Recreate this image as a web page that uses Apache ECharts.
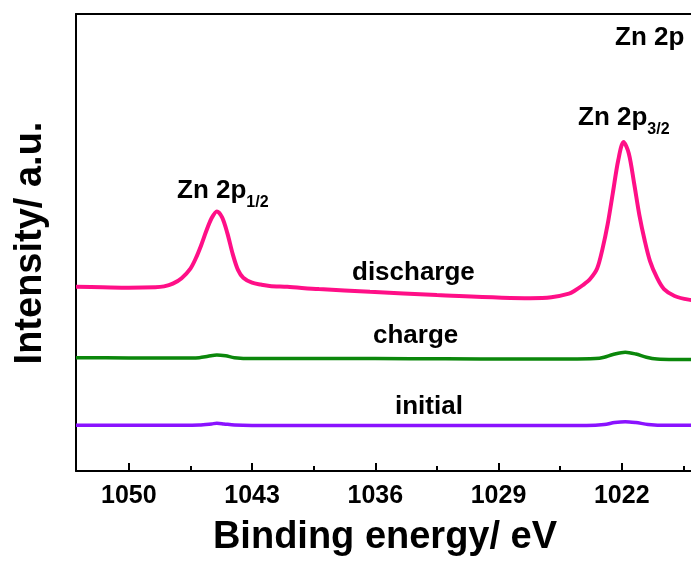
<!DOCTYPE html>
<html>
<head>
<meta charset="utf-8">
<script src="https://cdn.jsdelivr.net/npm/echarts@6/dist/echarts.min.js"></script>
<style>
html, body { margin: 0; padding: 0; background: #fff; }
#chart { width: 691px; height: 568px; }
</style>
</head>
<body>
<div id="chart"></div>
<script>
// binding energy (eV) and intensity (a.u., offset stacked)
var dischargeEnergy = [1053, 1051.5, 1050, 1048.5, 1048, 1047.5, 1047, 1046.5, 1046.2, 1045.9, 1045.6, 1045.3, 1045, 1044.7, 1044.4, 1044.1, 1043.8, 1043.5, 1043, 1042.5, 1042, 1041, 1039.2, 1036.3, 1032.5, 1027.2, 1026, 1025, 1024.7, 1024.2, 1023.8, 1023.4, 1023.1, 1022.8, 1022.5, 1022.2, 1021.9, 1021.6, 1021.3, 1021, 1020.7, 1020.4, 1020, 1019.6, 1019, 1018.2, 1017, 1015];
var dischargeValue = [40.3, 40.2, 40.1, 40.2, 40.4, 41.0, 42.2, 44.3, 46.5, 49.3, 52.5, 55.3, 56.8, 55.5, 52.0, 47.5, 44.0, 42.3, 41.2, 40.8, 40.5, 40.3, 39.8, 39.2, 38.5, 37.8, 38.0, 38.8, 39.4, 40.7, 42.0, 44.3, 48.5, 54.0, 61.0, 68.0, 72.0, 69.5, 63.0, 56.0, 50.5, 46.0, 42.3, 39.8, 38.3, 37.5, 37.0, 36.6];

var chargeEnergy = [1053, 1050, 1047, 1046, 1045.5, 1045, 1044.5, 1044, 1043, 1040, 1036, 1032, 1028, 1025, 1023.5, 1023, 1022.5, 1021.8, 1021.2, 1020.6, 1020, 1019, 1017, 1015];
var chargeValue = [24.8, 24.75, 24.7, 24.8, 25.1, 25.4, 25.2, 24.8, 24.6, 24.6, 24.6, 24.55, 24.5, 24.5, 24.6, 24.9, 25.5, 26.0, 25.6, 24.9, 24.5, 24.4, 24.4, 24.4];

var initialEnergy = [1053, 1047, 1046, 1045.3, 1045, 1044.6, 1044, 1043, 1036, 1029, 1024, 1023, 1022.4, 1021.8, 1021.2, 1020.5, 1019.5, 1015];
var initialValue = [10.0, 10.0, 10.05, 10.3, 10.45, 10.3, 10.05, 9.95, 9.95, 9.95, 9.95, 10.15, 10.6, 10.8, 10.6, 10.2, 10.0, 10.0];

var xMin = 1015, xMax = 1053, majorStep = 7, minorStep = 3.5;

function pairs(xs, ys) {
    return xs.map(function (x, i) { return [x, ys[i]]; });
}

var FONT = '"Liberation Sans", Arial, sans-serif';
var gridRect = { left: 76, top: 14, width: 669, height: 457, outerBoundsMode: 'none', containLabel: false };

var myChart = echarts.init(document.getElementById('chart'));
var option = {
    animation: false,
    backgroundColor: '#fff',
    grid: [
        Object.assign({}, gridRect),
        Object.assign({}, gridRect)
    ],
    xAxis: [
        {
            type: 'value', gridIndex: 0, position: 'bottom', inverse: true,
            min: xMin, max: xMax, interval: majorStep,
            axisLine: { lineStyle: { color: '#000', width: 2 } },
            axisTick: { inside: true, length: 8, lineStyle: { color: '#000', width: 2 } },
            axisLabel: {
                margin: 13, color: '#000', fontFamily: FONT, fontWeight: 'bold', fontSize: 25,
                formatter: function (v) { return v % majorStep === 0 ? String(v) : ''; }
            },
            splitLine: { show: false }
        },
        {
            type: 'value', gridIndex: 0, position: 'top', inverse: true,
            min: xMin, max: xMax,
            axisLine: { lineStyle: { color: '#000', width: 2 } },
            axisTick: { show: false }, axisLabel: { show: false }, splitLine: { show: false }
        },
        {
            // minor ticks on a twin grid
            type: 'value', gridIndex: 1, position: 'bottom', inverse: true,
            min: xMin, max: xMax, interval: minorStep,
            axisLine: { show: false },
            axisTick: { inside: true, length: 5, lineStyle: { color: '#000', width: 2 } },
            axisLabel: { show: false }, splitLine: { show: false }
        }
    ],
    yAxis: [
        {
            type: 'value', gridIndex: 0, min: 0, max: 100,
            axisLine: { show: true, lineStyle: { color: '#000', width: 2 } },
            axisTick: { show: false }, axisLabel: { show: false }, splitLine: { show: false }
        },
        {
            type: 'value', gridIndex: 1, min: 0, max: 100, show: false
        }
    ],
    series: [
        {
            name: 'discharge', type: 'line', xAxisIndex: 0, yAxisIndex: 0,
            data: pairs(dischargeEnergy, dischargeValue),
            showSymbol: false, smooth: 0.3,
            lineStyle: { color: '#ff0f87', width: 4 }
        },
        {
            name: 'charge', type: 'line', xAxisIndex: 0, yAxisIndex: 0,
            data: pairs(chargeEnergy, chargeValue),
            showSymbol: false, smooth: 0.3,
            lineStyle: { color: '#0b870b', width: 3.5 }
        },
        {
            name: 'initial', type: 'line', xAxisIndex: 0, yAxisIndex: 0,
            data: pairs(initialEnergy, initialValue),
            showSymbol: false, smooth: 0.3,
            lineStyle: { color: '#8a12ff', width: 3.5 }
        }
    ],
    graphic: [
        {
            type: 'text', x: 31, y: 243, rotation: Math.PI / 2,
            style: { text: 'Intensity/ a.u.', fill: '#000', font: 'bold 38px ' + FONT, textAlign: 'center', textVerticalAlign: 'middle' }
        },
        {
            type: 'text', x: 385, y: 538,
            style: { text: 'Binding energy/ eV', fill: '#000', font: 'bold 38px ' + FONT, textAlign: 'center', textVerticalAlign: 'middle' }
        },
        {
            type: 'text', x: 615, y: 38,
            style: { text: 'Zn 2p', fill: '#000', font: 'bold 26px ' + FONT, textAlign: 'left', textVerticalAlign: 'middle' }
        },
        {
            type: 'text', x: 578, y: 118,
            style: {
                text: '{m|Zn 2p}{s|3/2}', textAlign: 'left', textVerticalAlign: 'middle',
                rich: {
                    m: { fill: '#000', fontFamily: FONT, fontWeight: 'bold', fontSize: 26 },
                    s: { fill: '#000', fontFamily: FONT, fontWeight: 'bold', fontSize: 16, padding: [24, 0, 0, 0] }
                }
            }
        },
        {
            type: 'text', x: 177, y: 191,
            style: {
                text: '{m|Zn 2p}{s|1/2}', textAlign: 'left', textVerticalAlign: 'middle',
                rich: {
                    m: { fill: '#000', fontFamily: FONT, fontWeight: 'bold', fontSize: 26 },
                    s: { fill: '#000', fontFamily: FONT, fontWeight: 'bold', fontSize: 16, padding: [24, 0, 0, 0] }
                }
            }
        },
        {
            type: 'text', x: 352, y: 273,
            style: { text: 'discharge', fill: '#000', font: 'bold 26px ' + FONT, textAlign: 'left', textVerticalAlign: 'middle' }
        },
        {
            type: 'text', x: 373, y: 336,
            style: { text: 'charge', fill: '#000', font: 'bold 26px ' + FONT, textAlign: 'left', textVerticalAlign: 'middle' }
        },
        {
            type: 'text', x: 395, y: 407,
            style: { text: 'initial', fill: '#000', font: 'bold 26px ' + FONT, textAlign: 'left', textVerticalAlign: 'middle' }
        }
    ]
};
myChart.setOption(option);
</script>
</body>
</html>
